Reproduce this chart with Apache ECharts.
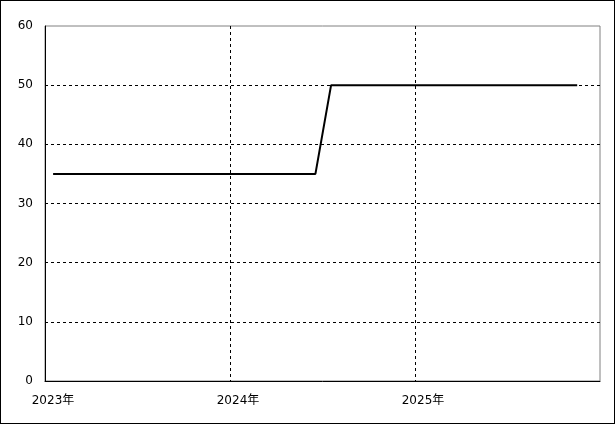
<!DOCTYPE html>
<html><head><meta charset="utf-8">
<script src="https://cdn.jsdelivr.net/npm/echarts@6/dist/echarts.min.js"></script>
<style>
html,body{margin:0;padding:0;background:#fff;}
#c{width:615px;height:424px;box-sizing:border-box;border:1px solid #000;}
</style></head>
<body><div id="c"></div>
<script>
var dates = ['2023-01-17', '2024-06-18', '2024-07-19', '2025-11-17'];
var values = [35, 35, 50, 50];
var yearTicks = [2023, 2024, 2025];

function toYear(s) {
  var p = s.split('-').map(Number);
  var start = Date.UTC(p[0], 0, 1), end = Date.UTC(p[0] + 1, 0, 1);
  return p[0] + (Date.UTC(p[0], p[1] - 1, p[2]) - start) / (end - start);
}
var data = dates.map(function (d, i) { return [toYear(d), values[i]]; });

var font = {fontFamily: 'DejaVu Sans, Noto Sans CJK JP', fontSize: 12, color: '#000'};
var dash = {color: '#000', width: 1, type: [3, 3]};
var chart = echarts.init(document.getElementById('c'));
chart.setOption({
  animation: false,
  grid: {left: 44, top: 25, right: 14, bottom: 42, show: true, borderColor: '#808080', borderWidth: 1},
  xAxis: [{
    type: 'value', min: 2023, max: 2026, interval: 1,
    axisLine: {lineStyle: {color: '#000', width: 1}},
    axisTick: {show: false},
    splitLine: {show: true, showMinLine: false, showMaxLine: false, lineStyle: dash},
    axisLabel: Object.assign({margin: 14, padding: [0, 0, 0, 16], showMaxLabel: false,
      formatter: function (v) { return yearTicks.indexOf(v) >= 0 ? v + '年' : ''; }}, font)
  }],
  yAxis: [{
    type: 'value', min: 0, max: 60, interval: 10,
    axisLine: {show: true, lineStyle: {color: '#000', width: 1}},
    axisTick: {show: false},
    splitLine: {show: true, showMinLine: false, showMaxLine: false, lineStyle: dash},
    axisLabel: Object.assign({margin: 12}, font)
  }],
  series: [{
    type: 'line', data: data, showSymbol: false, symbol: 'none',
    lineStyle: {color: '#000', width: 2}, z: 10
  }]
});
</script></body></html>
